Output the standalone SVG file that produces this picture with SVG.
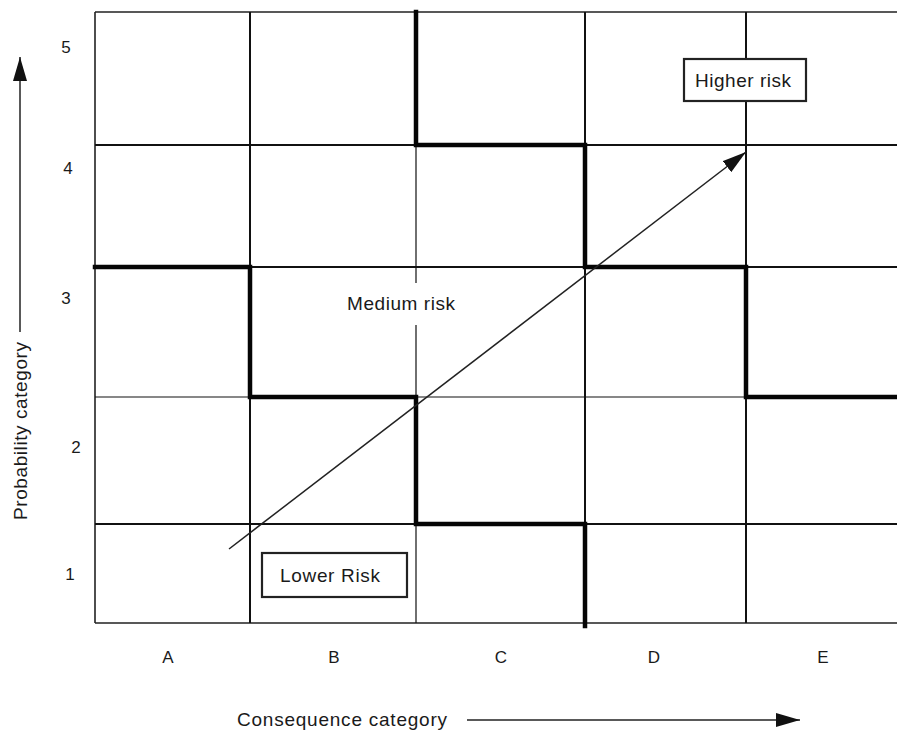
<svg xmlns="http://www.w3.org/2000/svg" width="897" height="731" viewBox="0 0 897 731">
<style>
.grid{stroke:#111;stroke-width:2;fill:none}
.thin{stroke:#111;stroke-width:1.2;fill:none}
.border{stroke:#222;stroke-width:1.6;fill:none}
.thick{stroke:#050505;stroke-width:4.5;fill:none;stroke-linejoin:miter;stroke-linecap:square}
.lbl{font-family:"Liberation Sans",Arial,sans-serif;font-size:19px;fill:#1a1a1a}
.num{font-family:"Liberation Sans",Arial,sans-serif;font-size:17px;fill:#1a1a1a}
.box{fill:#fff;stroke:#222;stroke-width:2.2}
.arr{stroke:#222;stroke-width:1.5;fill:none}
</style>
<defs>
<marker id="ahBig" markerWidth="24" markerHeight="14" refX="24" refY="7" orient="auto" markerUnits="userSpaceOnUse" viewBox="0 0 24 14">
<path d="M0,0 L24,7 L0,14 Z" fill="#111"/>
</marker>
</defs>
<rect width="897" height="731" fill="#fff"/>
<g id="grid">
<path class="border" d="M95,12 H897 M95,623 H897 M95,12 V623"/>
<path class="grid" d="M95,145 H416 M585,145 H897"/>
<path class="grid" d="M250,267 H585 M746,267 H897"/>
<path class="thin" d="M95,397 H250 M416,397 H746"/>
<path class="grid" d="M95,524 H416 M585,524 H897"/>
<path class="grid" d="M250,12 V267 M250,397 V623"/>
<path class="thin" d="M416,145 V283 M416,325 V397 M416,524 V623"/>
<path class="grid" d="M585,12 V145 M585,267 V524"/>
<path class="grid" d="M746,12 V59 M746,101 V267 M746,397 V623"/>
</g>
<g id="boundaries">
<path class="thick" d="M95,267 H250 V397 H416 V524 H585 V626"/>
<path class="thick" d="M416,12 V145 H585 V267 H746 V397 H895"/>
</g>
<g id="connectors">
<line class="arr" x1="229" y1="549" x2="746" y2="152" marker-end="url(#ahBig)"/>
<line class="arr" x1="20" y1="332" x2="20" y2="57" marker-end="url(#ahBig)"/>
<line class="arr" x1="467" y1="720" x2="800" y2="720" stroke-width="1.8" marker-end="url(#ahBig)"/>
</g>
<g id="higher-risk">
<rect class="box" x="684" y="59" width="122" height="42"/>
<text class="lbl" x="695" y="87" textLength="96">Higher risk</text>
</g>
<g id="lower-risk">
<rect class="box" x="262" y="553" width="145" height="44"/>
<text class="lbl" x="280" y="582" textLength="100">Lower Risk</text>
</g>
<g id="medium-risk">
<text class="lbl" x="347" y="310" textLength="108">Medium risk</text>
</g>
<g id="y-labels">
<text class="num" x="66" y="53" text-anchor="middle">5</text>
<text class="num" x="68" y="174" text-anchor="middle">4</text>
<text class="num" x="66" y="304" text-anchor="middle">3</text>
<text class="num" x="76" y="453" text-anchor="middle">2</text>
<text class="num" x="70" y="580" text-anchor="middle">1</text>
</g>
<g id="x-labels">
<text class="num" x="168" y="663" text-anchor="middle">A</text>
<text class="num" x="334" y="663" text-anchor="middle">B</text>
<text class="num" x="501" y="663" text-anchor="middle">C</text>
<text class="num" x="654" y="663" text-anchor="middle">D</text>
<text class="num" x="823" y="663" text-anchor="middle">E</text>
</g>
<g id="axis-titles">
<text class="lbl" x="237" y="726" textLength="210">Consequence category</text>
<text class="lbl" transform="translate(27,520) rotate(-90)" textLength="178">Probability category</text>
</g>
</svg>
